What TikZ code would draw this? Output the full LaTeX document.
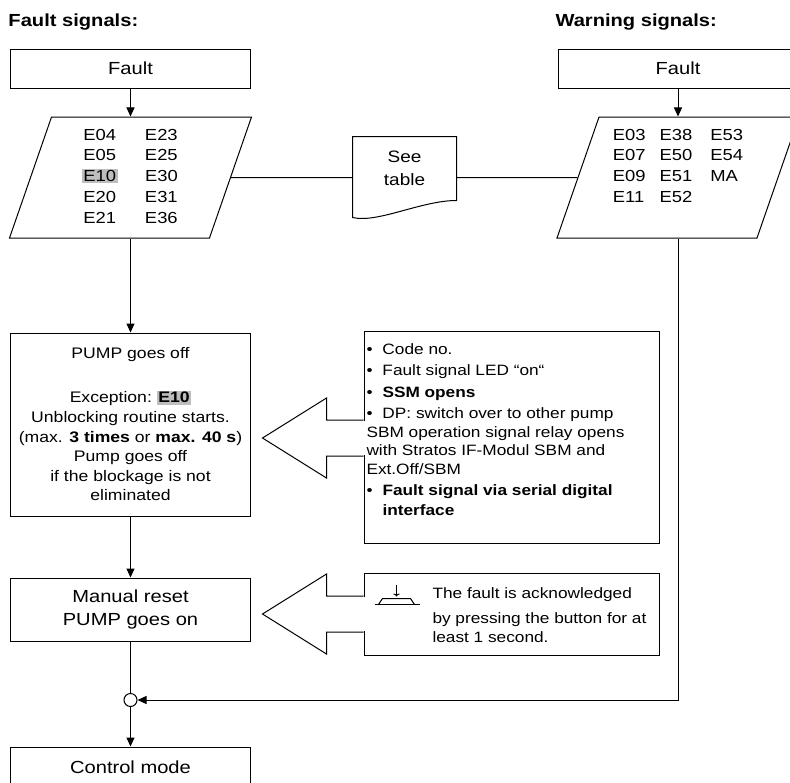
\documentclass[tikz,border=0pt]{standalone}
\usepackage{fontspec}
\setmainfont{Liberation Sans}[FakeStretch=1.15]
\usetikzlibrary{positioning, arrows.meta, shapes.geometric, calc}
\definecolor{MarkGray}{HTML}{BEBEBE}
\newcommand{\markcode}[1]{{\setlength{\fboxsep}{1.5pt}\hspace{-1.5pt}\colorbox{MarkGray}{#1}\hspace{-1.5pt}}}
\newcommand{\itm}{\makebox[16pt][l]{•}}

\begin{document}
\begin{tikzpicture}[x=1pt, y=-1pt, line width=1pt,
  box/.style={draw, minimum width=240, minimum height=39, inner sep=2pt, align=center, font=\fontsize{17.5}{23}\selectfont},
  codes/.style={draw, trapezium, trapezium left angle=68, trapezium right angle=112, trapezium stretches body, minimum width=242, minimum height=121, inner sep=0pt, font=\fontsize{16}{20.8}\selectfont},
  head/.style={anchor=base west, inner sep=0pt, font=\fontsize{17.5}{20}\selectfont\bfseries},
  txt/.style={anchor=north west, align=left, inner sep=0pt},
  arr/.style={-{Triangle[length=9pt, width=8pt]}},
  hollowarr/.pic={
    \fill[white] (-1,-17) rectangle (1.5,17);
    \draw (0,-18) -- (-37,-18) -- (-37,-40) -- (-101,0) -- (-37,40) -- (-37,18) -- (0,18);
  },
]
  \useasboundingbox (0,0) rectangle (790,782);
  \clip (0,0) rectangle (790,782);

  % headings
  \node[head] (fhead) at (8,26) {Fault signals:};
  \node[head] (whead) at (555,26) {Warning signals:};

  % fault signals
  \node[box] (ffault) at (130.5,68.5) {Fault};
  \node[codes] (fcodes) at (130.5,177.5) {\begin{tabular}{@{}l@{\hspace{29pt}}l@{}}
    E04 & E23\\ E05 & E25\\ \markcode{E10} & E30\\ E20 & E31\\ E21 & E36\end{tabular}};
  \node[box, minimum height=183, font=\fontsize{15.3}{19.6}\selectfont] (pump) at (130.5,424.5)
    {PUMP goes off\\[24.4pt]Exception: \markcode{\textbf{E10}}\\Unblocking routine starts.\\
     (max. \textbf{3 times} or \textbf{max. 40 s})\\Pump goes off\\if the blockage is not\\eliminated};
  \node[box, minimum height=63] (reset) at (130.5,609.5) {Manual reset\\PUMP goes on};
  \node[circle, draw, fill=white, minimum size=13, inner sep=0pt] (join) at (130.5,700) {};
  \node[box, minimum height=40] (ctrl) at (130.5,767) {Control mode};

  % see table
  \node[minimum width=103, minimum height=63, inner sep=0pt, align=center, font=\fontsize{16.5}{23}\selectfont] (seetab) at (404.5,168.5) {See\\table};
  \draw (seetab.north west) -- (seetab.north east) -- (seetab.south east)
    .. controls +(-35,0) and +(25,6) .. ($(seetab.south west)+(0,17)$) -- cycle;

  % warning signals
  \node[box] (wfault) at (678,68.5) {Fault};
  \node[codes] (wcodes) at (678,177.5) {\begin{tabular}{@{}l@{\hspace{14pt}}l@{\hspace{18pt}}l@{}}
    E03 & E38 & E53\\ E07 & E50 & E54\\ E09 & E51 & MA\\ E11 & E52 & \\ & & \end{tabular}};

  % notes
  \node[draw, minimum width=295, minimum height=212] (info) at (511.5,437) {};
  \node[txt, font=\fontsize{15}{18.7}\selectfont] (infotxt) at (366,343.3)
    {\itm Code no.\\[2.6pt]\itm Fault signal LED “on“\\[2.6pt]\itm\textbf{SSM opens}\\[2.6pt]
     \itm DP: switch over to other pump\\SBM operation signal relay opens\\with Stratos IF-Modul SBM and\\
     Ext.Off/SBM\\[2.6pt]\itm\textbf{Fault signal via serial digital}\\[1.3pt]\hspace*{16pt}\textbf{interface}};
  \node[draw, minimum width=295, minimum height=82] (ack) at (511.5,614) {};
  \node[txt, font=\fontsize{15}{19}\selectfont] (acktxt) at (432,587.5)
    {The fault is acknowledged\\[6pt]by pressing the button for at\\least 1 second.};
  % push button
  \draw ($(ack.north west)+(11,32)$) -- +(45,0);
  \draw ($(ack.north west)+(15,32)$) -- +(4,-6) -- +(32,-6) -- +(36,0);
  \draw[-{To[length=3pt]}] ($(ack.north west)+(33,12)$) -- +(0,12);

  % block arrows
  \pic at ($(info.west)+(0,1)$) {hollowarr};
  \pic at (ack.west) {hollowarr};

  % connectors
  \draw[arr] (ffault) -- (fcodes);
  \draw[arr] (wfault) -- (wcodes);
  \draw[arr] (fcodes) -- (pump);
  \draw[arr] (pump) -- (reset);
  \draw (reset) -- (join);
  \draw[arr] (join) -- (ctrl);
  \draw[arr] (wcodes.south) |- (join);
  \draw (fcodes) -- (fcodes -| seetab.west);
  \draw (seetab.east |- wcodes) -- (wcodes);
\end{tikzpicture}
\end{document}
